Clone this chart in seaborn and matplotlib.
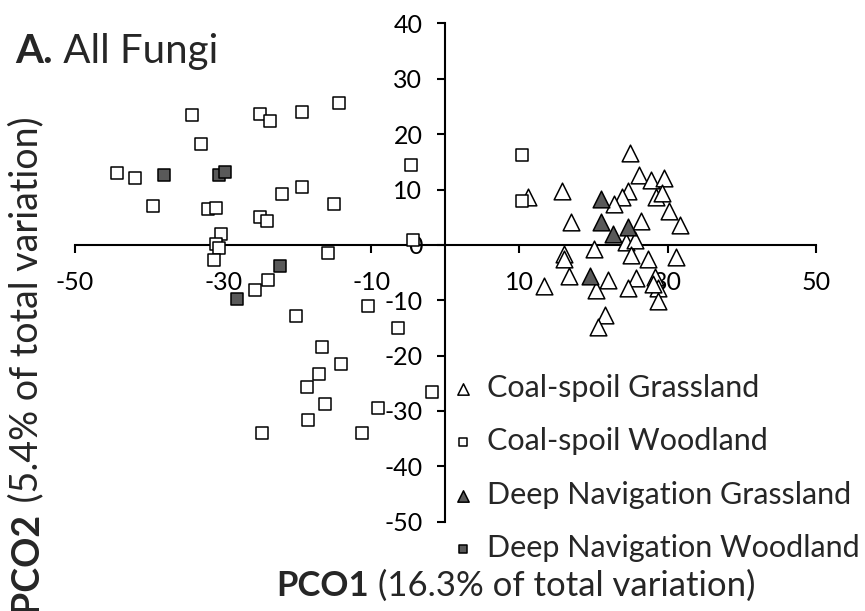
import matplotlib
matplotlib.use('Agg')
import matplotlib.pyplot as plt
import seaborn as sns

# PCO scores
cs_grass_x = [24.9, 26.2, 27.8, 29.5, 11.2, 15.7, 24.7, 23.8, 22.8, 28.5, 29.2, 30.2,
              31.7, 17.0, 26.4, 24.4, 25.6, 20.1, 16.0, 16.0, 25.1, 27.3, 31.2, 16.7,
              22.0, 25.7, 28.3, 20.4, 24.7, 28.7, 13.3, 28.7, 21.6, 20.6, 28.1]
cs_grass_y = [16.6, 12.7, 11.8, 12.1, 8.6, 9.8, 9.8, 8.6, 7.3, 8.6, 9.4, 6.2,
              3.6, 4.1, 4.3, 0.5, 0.9, -0.8, -1.7, -2.6, -1.8, -2.6, -2.2, -5.6,
              -6.3, -5.9, -5.8, -8.1, -7.8, -7.8, -7.4, -10.1, -12.6, -14.8, -7.0]

cs_wood_x = [-34.2, -25.0, -23.7, -19.4, -14.3, -33.0, -44.3, -41.9, -4.7, -22.1,
             -19.4, -39.5, -32.0, -31.0, -15.1, -25.0, -24.1, -30.3, -30.9, -30.6,
             -4.4, -31.3, -15.8, -24.0, -25.7, -20.1, -10.4, -6.4, -16.7, -14.1,
             -17.0, -18.7, -1.8, -16.3, -9.1, -18.5, -24.7, -11.2, 10.3, 10.3]
cs_wood_y = [23.4, 23.7, 22.4, 24.0, 25.6, 18.3, 13.0, 12.1, 14.4, 9.2,
             10.4, 7.0, 6.4, 6.6, 7.3, 5.0, 4.4, 1.9, 0.1, -0.5,
             0.9, -2.7, -1.4, -6.3, -8.1, -12.9, -11.1, -15.0, -18.5, -21.6,
             -23.3, -25.6, -26.5, -28.8, -29.4, -31.6, -34.0, -34.0, 16.3, 7.9]

dn_grass_x = [21.0, 21.0, 22.7, 24.7, 19.5]
dn_grass_y = [8.2, 4.1, 2.0, 3.3, -5.6]

dn_wood_x = [-38.0, -30.5, -29.8, -22.3, -28.1]
dn_wood_y = [12.7, 12.7, 13.1, -3.9, -9.8]

x_ticks = [-50, -30, -10, 10, 30, 50]
y_ticks = [-50, -40, -30, -20, -10, 0, 10, 20, 30, 40]

sns.set_style('white')
plt.rcParams['font.family'] = ['Lato', 'DejaVu Sans']
plt.rcParams['axes.unicode_minus'] = False

W, H = 865, 611
fig = plt.figure(figsize=(W / 100, H / 100), dpi=100)
ax = fig.add_axes([75 / W, (H - 521.7) / H, 740.7 / W, (521.7 - 23.4) / H])

dark = '#595959'
sns.scatterplot(x=cs_grass_x, y=cs_grass_y, marker='^', s=144, color='white',
                edgecolor='black', linewidth=1.1, label='Coal-spoil Grassland', ax=ax)
sns.scatterplot(x=cs_wood_x, y=cs_wood_y, marker='s', s=81, color='white',
                edgecolor='black', linewidth=1.1, label='Coal-spoil Woodland', ax=ax)
sns.scatterplot(x=dn_grass_x, y=dn_grass_y, marker='^', s=144, color=dark,
                edgecolor='black', linewidth=1.1, label='Deep Navigation Grassland', ax=ax)
sns.scatterplot(x=dn_wood_x, y=dn_wood_y, marker='s', s=81, color=dark,
                edgecolor='black', linewidth=1.1, label='Deep Navigation Woodland', ax=ax)

ax.set_xlim(-50, 50)
ax.set_ylim(-50, 40)
ax.set_xticks(x_ticks)
ax.set_yticks(y_ticks)
for side in ['top', 'right']:
    ax.spines[side].set_visible(False)
ax.spines['left'].set_position(('data', 0))
ax.spines['bottom'].set_position(('data', 0))
for side in ['left', 'bottom']:
    ax.spines[side].set_linewidth(1.5)
    ax.spines[side].set_color('black')
    ax.spines[side].set_zorder(0.5)
ax.tick_params(axis='both', direction='out', length=5.5, width=1.5, color='black',
               labelsize=18, labelcolor='black', bottom=True, left=True)
ax.tick_params(axis='x', pad=13)
ax.tick_params(axis='y', pad=11)
ax.set_xlabel('')
ax.set_ylabel('')
ax.patch.set_alpha(0)

handles, labels = ax.get_legend_handles_labels()
ax.legend_.remove()
fig.legend(handles, labels, loc='upper left', bbox_to_anchor=(447.7 / W, (H - 374) / H),
           frameon=False, fontsize=22, markerscale=0.68, handlelength=1.0,
           handletextpad=0.28, labelspacing=0.83, borderpad=0, borderaxespad=0)

# title and axis labels, bold part + regular part
fig.text(53 / W, (H - 63) / H, 'A.', fontsize=29, fontweight='bold', ha='right', va='baseline')
fig.text(53 / W, (H - 63) / H, ' All Fungi', fontsize=29, ha='left', va='baseline')

fig.text(369 / W, (H - 596) / H, 'PCO1', fontsize=25, fontweight='bold', ha='right', va='baseline')
fig.text(369 / W, (H - 596) / H, ' (16.3% of total variation)', fontsize=25, ha='left', va='baseline')

fig.text(37 / W, (H - 512) / H, 'PCO2', fontsize=27, fontweight='bold', rotation=90,
         rotation_mode='anchor', ha='right', va='baseline')
fig.text(37 / W, (H - 512) / H, ' (5.4% of total variation)', fontsize=27, rotation=90,
         rotation_mode='anchor', ha='left', va='baseline')

fig.savefig('out.png', dpi=100)
